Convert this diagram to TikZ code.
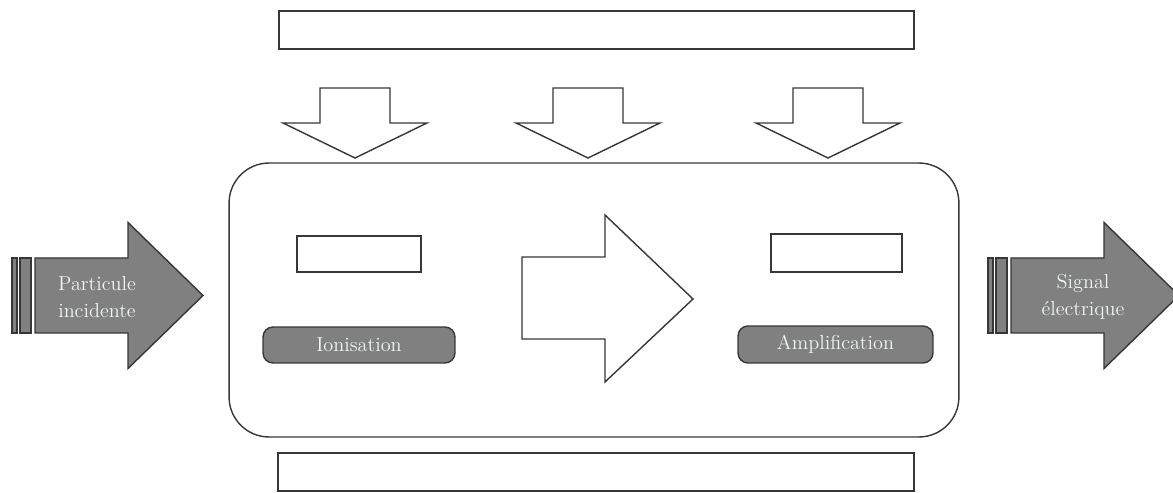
\documentclass[tikz,border=0pt]{standalone}
\usepackage{tikz}
\definecolor{shadegray}{RGB}{128,128,128}
\definecolor{edgegray}{RGB}{55,55,55}
\definecolor{labelwhite}{RGB}{240,246,246}
\tikzset{frame/.style = {draw=edgegray, line width=0.8pt, fill=white, rectangle},
         stage/.style = {draw=edgegray, line width=0.8pt, fill=shadegray, rectangle, rounded corners=0.2cm, text=labelwhite, font=\fontsize{11.5}{13}\selectfont},
         arrowtext/.style = {text=labelwhite, align=center, font=\fontsize{11.5}{15}\selectfont},
         stripedarrow/.pic = {  \draw[draw=edgegray, fill=shadegray, line width=0.8pt] (-23,-37.5) rectangle (-18,37.5);
                                \draw[draw=edgegray, fill=shadegray, line width=0.8pt] (-15,-37.5) rectangle (-4,37.5);
                                \draw[draw=edgegray, fill=shadegray, line width=0.8pt] (0,-37.5) -- (93,-37.5) -- (93,-73) -- (168,0) -- (93,73) -- (93,37.5) -- (0,37.5) -- cycle;},
         downarrow/.pic = {  \draw[draw=edgegray, fill=white, line width=0.8pt] (0,0) -- (-72,-35) -- (-35,-35) -- (-35,-70) -- (35,-70) -- (35,-35) -- (72,-35) -- cycle;}}
\begin{document}
\begin{tikzpicture}[x=0.02cm, y=-0.02cm]
        \useasboundingbox (0,0) rectangle (1173,493);

        \node[frame, minimum width=12.7cm, minimum height=0.76cm] (source) at (596.5,30) {};
        \node[frame, minimum width=12.72cm, minimum height=0.76cm] (base) at (596,472) {};
        \node[frame, rounded corners=0.8cm, minimum width=14.6cm, minimum height=5.48cm] (detector) at (594,300) {};

        \draw (355,158)pic{downarrow};
        \draw (588,158)pic{downarrow};
        \draw (828,158)pic{downarrow};

        \draw (35,295.5)pic{stripedarrow};
        \draw (1011,295.5)pic{stripedarrow};

        \draw[draw=edgegray, fill=white, line width=0.8pt] (522,257) -- (605,257) -- (605,215) -- (693,299) -- (605,382) -- (605,339) -- (522,339) -- cycle;

        \node[frame, minimum width=2.48cm, minimum height=0.72cm] (iontop) at (359,254) {};
        \node[frame, minimum width=2.62cm, minimum height=0.76cm] (amptop) at (836.5,253) {};
        \node[stage, minimum width=3.84cm, minimum height=0.72cm] (ion) at (359,345) {Ionisation};
        \node[stage, minimum width=3.9cm, minimum height=0.74cm] (amp) at (835.5,344.5) {Amplification};

        \node[arrowtext] (incident) at (97,297) {Particule\\incidente};
        \node[arrowtext] (signal) at (1083,297) {Signal\\électrique};
    \end{tikzpicture}
\end{document}
